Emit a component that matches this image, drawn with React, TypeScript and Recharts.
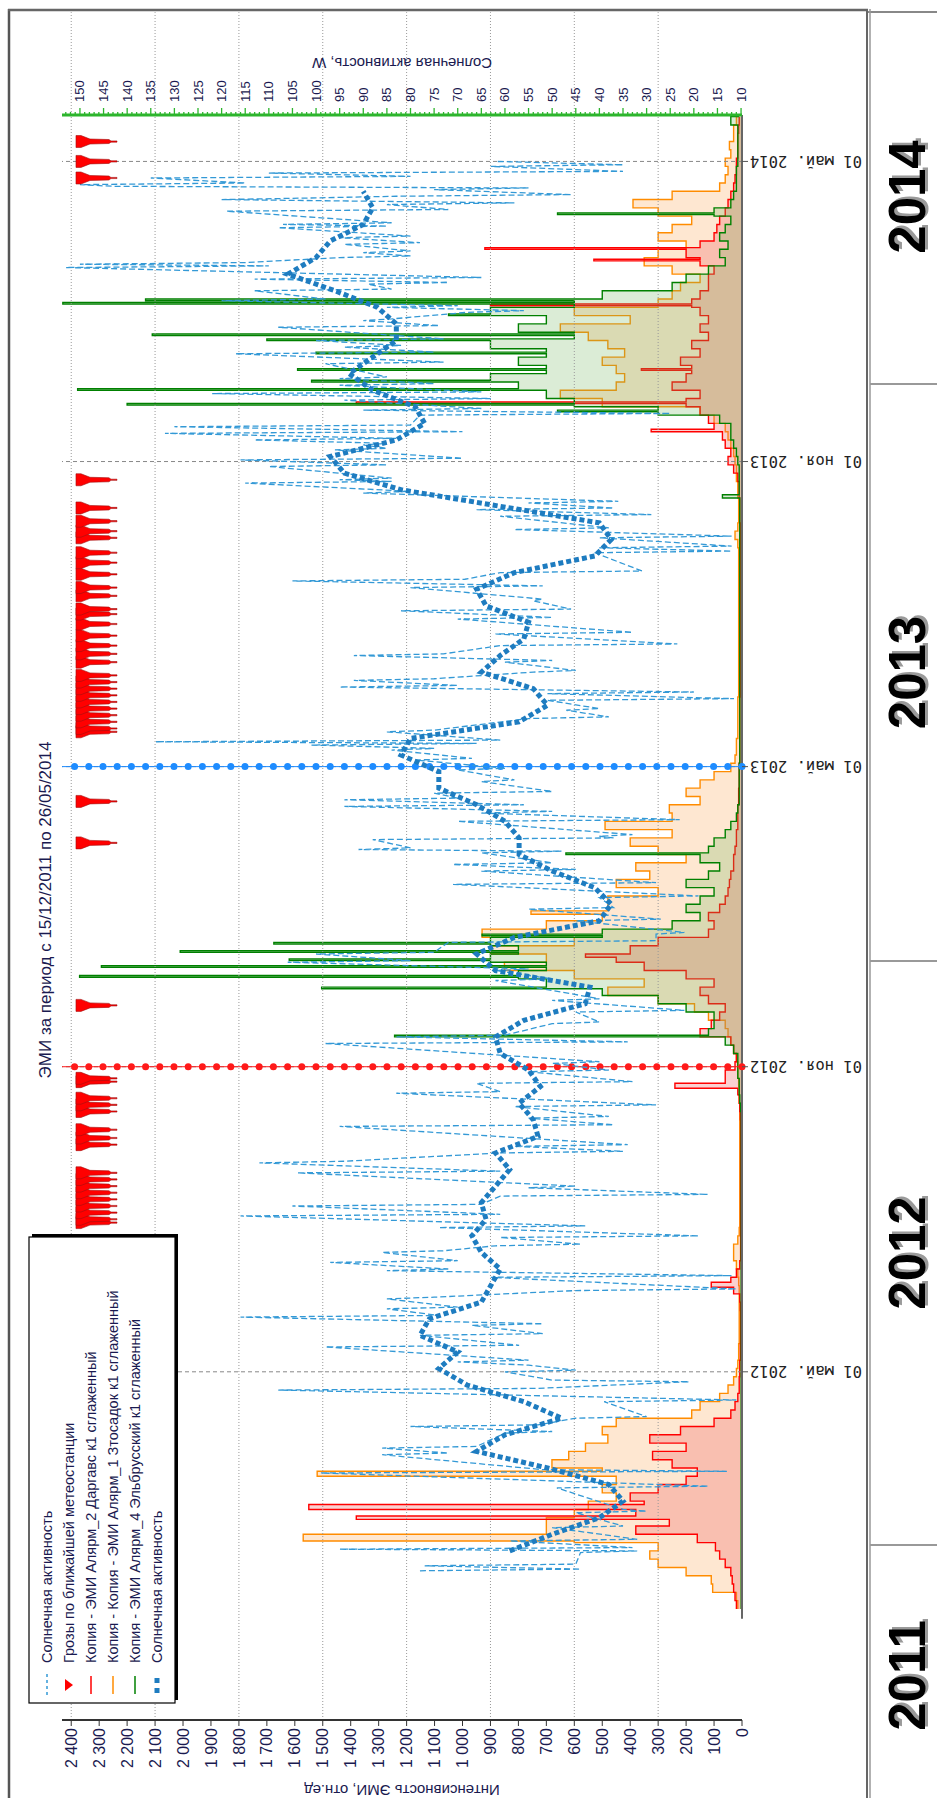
import React from 'react'
import { Area, ComposedChart, Line, ReferenceLine, Scatter, XAxis, YAxis } from 'recharts'

// the chart is drawn landscape (1798 x 937) and turned a quarter turn left
const W = 1798
const H = 937
const FONT = 'Liberation Sans, Arial, sans-serif'
const TXT = '#1a1a50'

const RED = '#ff0000'
const ORANGE = '#ff8c00'
const GREEN = '#008000'
const BLUE_RAW = '#3399d6'
const BLUE_SMOOTH = '#1e7cc0'

// time axis: days counted from 15.12.2011
const dateTicks = [138, 322, 503, 687, 868]
const dateLabels = ['01 май. 2012', '01 ноя. 2012', '01 май. 2013', '01 ноя. 2013', '01 май. 2014']
const redMarkDay = 322
const blueMarkDay = 503

const emiTicks = [0, 100, 200, 300, 400, 500, 600, 700, 800, 900, 1000, 1100, 1200, 1300, 1400, 1500, 1600, 1700, 1800, 1900, 2000, 2100, 2200, 2300, 2400]
const emiGrid = [300, 600, 900, 1200, 1500, 1800, 2100, 2400]

const years = ['2011', '2012', '2013', '2014']
const yearBounds = [-8, 253, 837, 1414, 1788]

// EMI, 5-day grid starting at day -5
const GRID_START = -5
const GRID_STEP = 5
const redBase = [
  20, 25, 30, 35, 40, 60, 80, 95, 160, 380,
  260, 380, 350, 400, 300, 200, 160, 250, 320, 200,
  330, 220, 100, 40, 25, 15, 10, 10, 8, 8,
  6, 6, 5, 5, 5, 5, 6, 8, 30, 40,
  20, 8, 5, 5, 5, 5, 5, 5, 5, 5,
  5, 5, 5, 5, 5, 5, 5, 5, 5, 6,
  8, 10, 15, 60, 60, 25, 20, 30, 40, 150,
  110, 80, 60, 120, 150, 100, 200, 350, 450, 400,
  300, 120, 100, 120, 80, 60, 50, 45, 40, 30,
  30, 25, 20, 20, 15, 15, 15, 12, 12, 10,
  10, 10, 8, 8, 8, 8, 8, 8, 8, 8,
  6, 6, 6, 6, 6, 6, 6, 6, 6, 6,
  6, 6, 6, 6, 6, 6, 6, 6, 6, 6,
  6, 8, 8, 8, 10, 10, 15, 30, 50, 40,
  60, 70, 100, 120, 150, 200, 150, 250, 200, 180,
  220, 150, 180, 120, 150, 120, 150, 180, 150, 120,
  120, 100, 150, 200, 150, 100, 90, 80, 60, 50,
  40, 30, 25, 20, 20, 15, 15, 15, 12, 10,
  10
]
const orangeBase = [
  15, 20, 105, 110, 200, 300, 330, 300, 600, 700,
  700, 600, 550, 450, 500, 450, 500, 680, 620, 560,
  480, 500, 450, 180, 150, 80, 50, 30, 20, 15,
  12, 12, 10, 10, 10, 10, 10, 10, 10, 12,
  15, 20, 30, 30, 15, 10, 8, 8, 8, 8,
  8, 8, 8, 8, 8, 8, 8, 8, 8, 8,
  8, 10, 10, 12, 15, 15, 20, 30, 40, 50,
  60, 120, 170, 300, 480, 350, 600, 850, 700, 900,
  600, 930, 700, 500, 480, 480, 300, 450, 330, 380,
  200, 300, 400, 250, 490, 250, 260, 150, 200, 150,
  100, 40, 25, 20, 20, 15, 15, 15, 15, 15,
  12, 12, 12, 12, 12, 12, 12, 12, 12, 12,
  12, 12, 12, 12, 12, 12, 12, 12, 15, 25,
  15, 12, 12, 12, 15, 15, 20, 20, 25, 30,
  40, 50, 60, 100, 150, 500, 650, 450, 420, 450,
  500, 420, 480, 550, 650, 400, 600, 300, 250, 220,
  150, 250, 350, 300, 200, 300, 250, 180, 300, 390,
  250, 80, 60, 50, 60, 40, 45, 30, 30, 20,
  15
]
const greenBase = [
  3, 3, 3, 3, 3, 3, 3, 3, 3, 3,
  3, 3, 3, 3, 3, 3, 3, 3, 3, 3,
  3, 3, 3, 3, 3, 3, 3, 3, 3, 3,
  3, 3, 3, 3, 3, 3, 3, 3, 3, 3,
  3, 3, 3, 3, 3, 3, 3, 3, 3, 3,
  3, 3, 3, 3, 3, 3, 3, 3, 3, 3,
  5, 8, 10, 10, 15, 15, 15, 30, 60, 120,
  100, 100, 200, 300, 500, 700, 800, 700, 900, 800,
  900, 500, 250, 150, 200, 150, 100, 200, 120, 80,
  150, 120, 100, 60, 40, 20, 15, 10, 10, 10,
  10, 10, 8, 8, 8, 8, 8, 8, 8, 8,
  8, 8, 8, 8, 8, 8, 8, 8, 8, 8,
  8, 8, 8, 8, 8, 8, 8, 8, 8, 8,
  8, 8, 8, 8, 10, 10, 10, 10, 15, 20,
  30, 40, 40, 80, 300, 600, 700, 800, 900, 700,
  800, 700, 900, 600, 800, 700, 900, 600, 500, 250,
  200, 120, 60, 80, 50, 80, 60, 40, 100, 40,
  30, 20, 20, 20, 15, 15, 15, 15, 15, 40,
  10
]

// short bursts: [day, value, length in days]
const redSpikes = [
  [49, 1380, 2], [55, 1550, 3], [189, 110, 3], [309, 240, 3], [388, 560, 2],
  [705, 325, 1.5], [722, 1380, 1], [742, 360, 1], [781, 900, 1], [808, 530, 1], [815, 920, 1]
]
const orangeSpikes = [[36, 1570, 4], [75, 1520, 3], [414, 755, 2]]
const greenSpikes = [
  [340, 1243, 1], [369, 1504, 1], [376, 2370, 1], [382, 2292, 1], [386, 1620, 1],
  [391, 2010, 1], [396, 1675, 1], [401, 930, 1], [450, 630, 1], [665, 70, 2],
  [717, 660, 1], [721, 2200, 1], [730, 2377, 1], [735, 1540, 1], [742, 1590, 1],
  [752, 1524, 1], [760, 1700, 1], [763, 2110, 1], [775, 1050, 1], [782, 2430, 1],
  [784, 2134, 1], [836, 660, 1]
]

// thunderstorm days
const stormDays = [
  228, 230, 234, 238, 242, 246, 250, 254, 258, 275, 279, 284, 295, 299, 303, 313, 315, 359,
  457, 482, 524, 526, 530, 534, 538, 542, 546, 550, 554, 558, 566, 571, 576, 582, 589, 595,
  598, 606, 611, 619, 626, 632, 641, 645, 651, 659, 676, 858, 868, 880
]
const STORM_LEVEL = 2383

// solar activity, daily readings [day, W]
const solarDaily = [
  [18, 78], [19, 44], [21, 77], [22, 45], [29, 44], [30, 32], [31, 95], [32, 33], [36, 59], [37, 32],
  [44, 50], [45, 35], [53, 45], [54, 30], [55, 35], [68, 49], [69, 17], [77, 99], [78, 13], [79, 52],
  [88, 86], [89, 72], [92, 86], [93, 66], [101, 60], [102, 50], [105, 80], [106, 53], [110, 45], [111, 30],
  [120, 39], [121, 11], [127, 108], [128, 53], [132, 21], [133, 50], [138, 60], [139, 45], [142, 55], [144, 70],
  [145, 55], [153, 98], [154, 57], [160, 78], [161, 52], [166, 67], [167, 52], [171, 116], [172, 74], [176, 85],
  [177, 70], [182, 85], [183, 75], [187, 45], [188, 11], [195, 63], [196, 12], [199, 85], [200, 72], [204, 97],
  [205, 70], [210, 86], [211, 73], [214, 62], [215, 44], [219, 61], [220, 19], [225, 74], [226, 43], [232, 116],
  [233, 61], [238, 105], [239, 65], [244, 61], [245, 17], [249, 55], [250, 45], [258, 104], [259, 61], [264, 112],
  [265, 94], [270, 61], [271, 35], [274, 58], [275, 34], [286, 95], [287, 37], [291, 55], [292, 38], [298, 58],
  [299, 28], [306, 83], [307, 61], [312, 66], [313, 33], [319, 55], [320, 38], [324, 50], [325, 40], [336, 98],
  [337, 34], [340, 83], [341, 60], [348, 50], [349, 40], [355, 45], [356, 22], [362, 50], [363, 40], [374, 62],
  [375, 50], [380, 62], [381, 55], [385, 106], [386, 80], [390, 100], [391, 75], [397, 72], [398, 28], [402, 28],
  [403, 22], [410, 45], [411, 27], [417, 55], [418, 37], [424, 40], [425, 19], [432, 71], [433, 28], [440, 65],
  [441, 45], [444, 71], [445, 50], [451, 65], [452, 48], [453, 91], [454, 80], [459, 88], [460, 37], [461, 40],
  [462, 33], [470, 70], [471, 23], [475, 65], [476, 50], [479, 94], [480, 56], [483, 94], [484, 70], [487, 75],
  [488, 50], [494, 65], [495, 58], [501, 70], [502, 60], [507, 79], [508, 67], [513, 84], [514, 75], [516, 101],
  [517, 66], [518, 134], [519, 61], [524, 85], [525, 75], [532, 55], [533, 38], [537, 47], [538, 40], [543, 51],
  [544, 11.5], [547, 51], [548, 20], [551, 95], [552, 70], [555, 92], [556, 75], [560, 54], [561, 45], [566, 60],
  [567, 50], [570, 92], [571, 73], [576, 61], [577, 23.5], [583, 62], [584, 33], [592, 70], [593, 50], [597, 82],
  [598, 46], [603, 54], [604, 52], [611, 80], [612, 52], [615, 105], [616, 68.5], [620, 61], [621, 31], [632, 41],
  [633, 12], [635, 40], [636, 12], [641, 40], [642, 12], [646, 58], [647, 38], [654, 61], [655, 29], [658, 66],
  [659, 37], [662, 55], [663, 36], [668, 90], [669, 80], [674, 115], [675, 84], [676, 95], [677, 84], [684, 110],
  [685, 85], [688, 116], [689, 69], [694, 96], [695, 85], [697, 90], [698, 85], [700, 113], [701, 83], [704, 132],
  [705, 69], [708, 130], [709, 80], [715, 78], [716, 25], [718, 90], [719, 65], [724, 94], [725, 63], [728, 122],
  [729, 65], [733, 95], [734, 75], [737, 95], [738, 85], [746, 98], [747, 73], [752, 117], [753, 75], [756, 94],
  [757, 82], [760, 100], [761, 73], [768, 108], [769, 74], [772, 90], [773, 84], [777, 68], [778, 56], [780, 85],
  [781, 70], [784, 120], [785, 98], [790, 113], [791, 84], [794, 89], [795, 72], [797, 113], [798, 65], [804, 153],
  [805, 110], [806, 150], [807, 115], [810, 95], [811, 80], [813, 90], [814, 80], [818, 94], [819, 78], [822, 95],
  [823, 80], [828, 108], [829, 85], [830, 107], [831, 84], [838, 119], [839, 72], [842, 85], [843, 58], [845, 120],
  [846, 100], [847, 83], [848, 46], [851, 75], [852, 55], [853, 143], [854, 150], [855, 115], [858, 135], [859, 80],
  [861, 110], [862, 35], [865, 63], [866, 35], [868, 62]
]

// smoothed solar activity, every 10 days from day 30
const SMOOTH_START = 30
const SMOOTH_STEP = 10
const solarSmooth = [
  59, 50, 40, 35, 38, 51, 66, 60, 48, 56,
  68, 74, 70, 78, 76, 65, 63, 61, 65, 67,
  64, 65, 62, 59, 62, 53, 54, 57, 52.5, 55,
  61, 62, 56, 43, 42, 62, 66, 58, 40, 37.5,
  41, 50, 57, 57, 60, 66, 74, 74, 82, 80,
  57, 51, 54, 65, 61, 56, 55, 64, 66, 58,
  41, 37.5, 40, 61, 82, 94, 97, 83, 77, 79,
  88, 93, 88, 83, 83, 87, 96, 106, 100, 97,
  90, 88, 90
]

const legendItems = [
  { label: 'Солнечная активность', kind: 'dash' },
  { label: 'Грозы по ближайшей метеостанции', kind: 'storm' },
  { label: 'Копия - ЭМИ Алярм_2 Даргавс к1 сглаженный', kind: 'line', color: RED },
  { label: 'Копия - Копия - ЭМИ Алярм_1 Зтосадок к1 сглаженный', kind: 'line', color: ORANGE },
  { label: 'Копия - ЭМИ Алярм_4 Эльбрусский к1 сглаженный', kind: 'line', color: GREEN },
  { label: 'Солнечная активность', kind: 'dots' }
]

function valueAt(base: number[], spikes: number[][], t: number): number {
  for (const [s, v, d] of spikes) if (t >= s && t < s + d) return v
  const i = Math.max(0, Math.min(base.length - 1, Math.floor((t - GRID_START) / GRID_STEP)))
  return base[i]
}

const times = new Set<number>()
redBase.forEach((_, i) => times.add(GRID_START + i * GRID_STEP))
for (const list of [redSpikes, orangeSpikes, greenSpikes]) {
  for (const [s, , d] of list) {
    times.add(s)
    times.add(s + d)
  }
}
const emiData = Array.from(times)
  .sort((a, b) => a - b)
  .map((t) => ({
    t,
    red: valueAt(redBase, redSpikes, t),
    orange: valueAt(orangeBase, orangeSpikes, t),
    green: valueAt(greenBase, greenSpikes, t)
  }))

const stormData = stormDays.map((t) => ({ t, v: STORM_LEVEL }))
const solarRawData = solarDaily.map(([t, v]) => ({ t, v }))
const solarSmoothData = solarSmooth.map((v, i) => ({ t: SMOOTH_START + i * SMOOTH_STEP, v }))

const solarTicks: number[] = []
for (let v = 10; v <= 153; v++) solarTicks.push(v)

const fmtEmi = (v: number) =>
  v >= 1000 ? `${Math.floor(v / 1000)} ${String(v % 1000).padStart(3, '0')}` : String(v)

const EmiTick = ({ x, y, payload }: any) => (
  <text x={x} y={y} dy="0.35em" textAnchor="end" fontSize={16} fontFamily={FONT} fill={TXT}>
    {fmtEmi(payload.value)}
  </text>
)

const SolarTick = ({ x, y, payload }: any) => {
  const v = payload.value
  const major = v % 5 === 0
  return (
    <g>
      <line x1={x} x2={x + (major ? 7 : 3)} y1={y} y2={y} stroke="#2db52d" strokeWidth={1.3} />
      {major && (
        <text x={x + 13} y={y} dy="0.35em" fontSize={13} fontFamily={FONT} fill={TXT}>
          {v}
        </text>
      )}
    </g>
  )
}

const DateTick = ({ x, y, payload }: any) => (
  <text
    x={x}
    y={y}
    dy="0.35em"
    transform={`rotate(-90 ${x} ${y})`}
    textAnchor="end"
    fontSize={15.5}
    fontFamily="DejaVu Sans Mono, monospace"
    fill="#222"
  >
    {dateLabels[dateTicks.indexOf(payload.value)]}
  </text>
)

const StormFlag = (props: any) => {
  const { cx, cy } = props
  if (cx == null || cy == null) return null
  const pts = [
    [-6, 0], [6, 0], [6, 5], [2.5, 14], [2, 33], [0.6, 35], [0.6, 41],
    [-0.6, 41], [-0.6, 35], [-2, 33], [-2.5, 14], [-6, 5]
  ]
  return (
    <polygon
      points={pts.map(([dx, dy]) => `${cx + dx},${cy + dy}`).join(' ')}
      fill="#ff0000"
      stroke="#a01010"
      strokeWidth={0.6}
    />
  )
}

function Legend() {
  const x0 = 95
  const y0 = 29
  return (
    <g>
      <rect x={x0 + 3} y={y0 + 3} width={466} height={146} fill="#000" />
      <rect x={x0} y={y0} width={466} height={146} fill="#fff" stroke="#000" strokeWidth={1.2} />
      {legendItems.map((it, i) => {
        const y = 47 + i * 22
        let icon: React.ReactNode = null
        if (it.kind === 'dash')
          icon = <line x1={103} x2={124} y1={y} y2={y} stroke={BLUE_RAW} strokeWidth={1.5} strokeDasharray="3 3" />
        else if (it.kind === 'storm')
          icon = <polygon points={`${107},${y - 4} ${119},${y - 4} ${113},${y + 4}`} fill="#ff0000" />
        else if (it.kind === 'line')
          icon = <line x1={104} x2={122} y1={y} y2={y} stroke={it.color} strokeWidth={1.5} />
        else
          icon = (
            <g fill={BLUE_SMOOTH}>
              <rect x={105} y={y - 2.5} width={5} height={5} />
              <rect x={115} y={y - 2.5} width={5} height={5} />
            </g>
          )
        return (
          <g key={i}>
            {icon}
            <text x={135} y={y} dy="0.35em" fontSize={14.5} fontFamily={FONT} fill={TXT}>
              {it.label}
            </text>
          </g>
        )
      })}
    </g>
  )
}

function Frame() {
  return (
    <svg width={W} height={H} style={{ position: 'absolute', left: 0, top: 0, pointerEvents: 'none' }}>
      <line x1={-10} x2={1789} y1={9} y2={9} stroke="#555" strokeWidth={2.5} />
      <line x1={1788} x2={1788} y1={8} y2={868} stroke="#666" strokeWidth={2.5} />
      <line x1={1786} x2={1786} y1={868} y2={H} stroke="#888" strokeWidth={2} />
      <line x1={-10} x2={1789} y1={867} y2={867} stroke="#666" strokeWidth={2} />
      <line x1={-10} x2={1789} y1={870} y2={870} stroke="#999" strokeWidth={1.5} />
      {yearBounds.slice(1, -1).map((b) => (
        <line key={b} x1={b} x2={b} y1={870} y2={H} stroke="#999" strokeWidth={2} />
      ))}
      {years.map((yr, i) => {
        const cx = (yearBounds[i] + yearBounds[i + 1]) / 2
        return (
          <g key={yr} fontFamily={FONT} fontWeight="bold" fontSize={51} textAnchor="middle">
            <text x={cx + 2.5} y={927.5} fill="#9a9a9a">{yr}</text>
            <text x={cx} y={925} fill="#000">{yr}</text>
          </g>
        )
      })}
      <text x={888} y={51} textAnchor="middle" fontSize={17} fontFamily={FONT} fill={TXT}>
        ЭМИ за период с 15/12/2011 по 26/05/2014
      </text>
      <text x={13.5} y={402} transform="rotate(-90 13.5 402)" textAnchor="middle" fontSize={15} fontFamily={FONT} fill={TXT}>
        Интенсивность ЭМИ, отн.ед
      </text>
      <text x={1740.5} y={402} transform="rotate(-90 1740.5 402)" textAnchor="middle" fontSize={15} fontFamily={FONT} fill={TXT}>
        Солнечная активность, W
      </text>
      <Legend />
    </svg>
  )
}

export default function App() {
  return (
    <div style={{ position: 'absolute', left: 0, top: 0, width: H, height: W, overflow: 'hidden', background: '#fff' }}>
      <div
        style={{
          position: 'absolute',
          left: 0,
          top: 0,
          width: W,
          height: H,
          transformOrigin: '0 0',
          transform: `translate(0px, ${W}px) rotate(-90deg)`
        }}
      >
        <ComposedChart width={W} height={H} data={emiData} margin={{ top: 62, right: 60, bottom: 95, left: 18 }}>
          {emiGrid.map((v) => (
            <ReferenceLine
              key={v}
              yAxisId="left"
              segment={[{ x: -72, y: v }, { x: 958, y: v }]}
              ifOverflow="visible"
              stroke="#999"
              strokeDasharray="1 2"
            />
          ))}
          {dateTicks.map((t) => (
            <ReferenceLine key={t} yAxisId="left" x={t} stroke="#888" strokeDasharray="4 3" />
          ))}
          <XAxis
            dataKey="t"
            type="number"
            domain={[-72, 896]}
            allowDataOverflow
            ticks={dateTicks}
            interval={0}
            axisLine={false}
            tickSize={6}
            tickMargin={2}
            tickLine={{ stroke: '#555' }}
            tick={<DateTick />}
            height={100}
          />
          <YAxis
            yAxisId="left"
            type="number"
            domain={[0, 2433]}
            allowDataOverflow
            ticks={emiTicks}
            interval={0}
            width={60}
            axisLine={{ stroke: '#333', strokeWidth: 2 }}
            tickLine={{ stroke: '#333' }}
            tickSize={6}
            tickMargin={2}
            tick={<EmiTick />}
          />
          <YAxis
            yAxisId="right"
            orientation="right"
            type="number"
            domain={[9.8, 153.8]}
            allowDataOverflow
            ticks={solarTicks}
            interval={0}
            width={55}
            axisLine={{ stroke: '#2db52d', strokeWidth: 3 }}
            tickLine={false}
            tickSize={0}
            tickMargin={0}
            tick={<SolarTick />}
          />
          <ReferenceLine
            yAxisId="left"
            segment={[{ x: -11, y: 0 }, { x: 896, y: 0 }]}
            stroke="#666"
            strokeWidth={2}
          />
          <Area
            yAxisId="left"
            type="stepAfter"
            dataKey="orange"
            stroke={ORANGE}
            strokeWidth={1.4}
            fill="#faaa5a"
            fillOpacity={0.28}
            isAnimationActive={false}
          />
          <Area
            yAxisId="left"
            type="stepAfter"
            dataKey="red"
            stroke={RED}
            strokeWidth={1.4}
            fill="#f06464"
            fillOpacity={0.3}
            isAnimationActive={false}
          />
          <Area
            yAxisId="left"
            type="stepAfter"
            dataKey="green"
            stroke={GREEN}
            strokeWidth={1.4}
            fill="#6eb45a"
            fillOpacity={0.25}
            isAnimationActive={false}
          />
          <ReferenceLine yAxisId="left" x={redMarkDay} stroke="#ff1a1a" strokeWidth={1} />
          <ReferenceLine
            yAxisId="left"
            x={redMarkDay}
            stroke="#ff1a1a"
            strokeWidth={7}
            strokeDasharray="0 14.2"
            strokeLinecap="round"
          />
          <ReferenceLine yAxisId="left" x={blueMarkDay} stroke="#1e8cff" strokeWidth={1} />
          <ReferenceLine
            yAxisId="left"
            x={blueMarkDay}
            stroke="#1e8cff"
            strokeWidth={7}
            strokeDasharray="0 14.2"
            strokeLinecap="round"
          />
          <Line
            yAxisId="right"
            data={solarRawData}
            dataKey="v"
            type="linear"
            stroke={BLUE_RAW}
            strokeWidth={1.3}
            strokeDasharray="6 3"
            dot={false}
            isAnimationActive={false}
          />
          <Line
            yAxisId="right"
            data={solarSmoothData}
            dataKey="v"
            type="linear"
            stroke={BLUE_SMOOTH}
            strokeWidth={5}
            strokeDasharray="5 3"
            dot={false}
            isAnimationActive={false}
          />
          <Scatter yAxisId="left" data={stormData} dataKey="v" shape={<StormFlag />} isAnimationActive={false} />
        </ComposedChart>
        <Frame />
      </div>
    </div>
  )
}
